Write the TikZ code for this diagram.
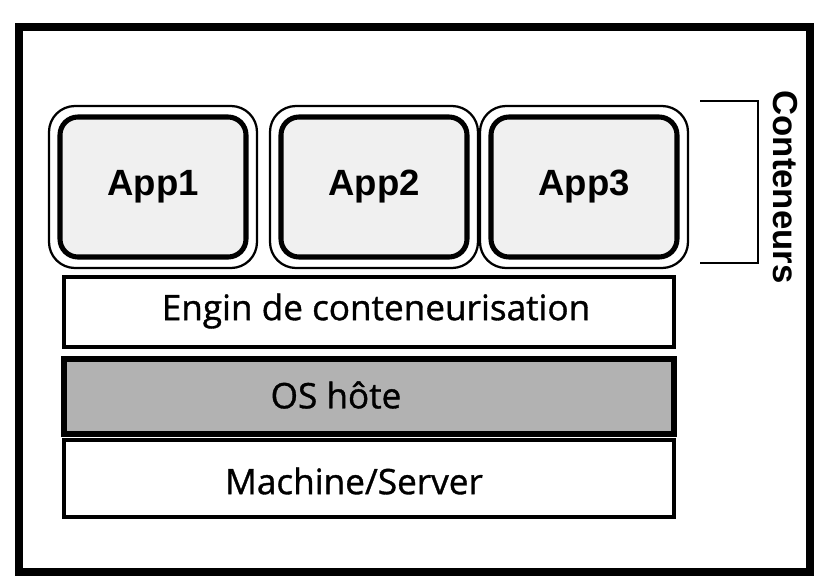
\documentclass[tikz,border=0pt]{standalone}
\usepackage{fontspec}
\setmainfont{Open Sans}
\newfontfamily\appfont{Liberation Sans}
\newfontfamily\layerfont[FakeBold=1]{Open Sans}
\usetikzlibrary{positioning}

\begin{document}
\begin{tikzpicture}[x=0.25mm, y=-0.25mm,
    appbox/.style={rectangle, draw, rounded corners=6.5mm, line width=1.6pt, minimum width=52mm, minimum height=40.5mm},
    appcore/.style={rectangle, draw, rounded corners=4.5mm, line width=3.6pt, fill=black!6, minimum width=46.5mm, minimum height=35mm, font=\appfont\bfseries\fontsize{26}{30}\selectfont},
    layer/.style={rectangle, draw, line width=2.6pt, minimum width=152.5mm, minimum height=17.5mm},
    layertext/.style={font=\layerfont\fontsize{25}{30}\selectfont}]

    \useasboundingbox (0,0) rectangle (816,586);
    \draw[line width=5.5pt] (19,27) rectangle (810,572);

    % containers
    \node[appbox] (app1) at (153,187) {};
    \node[appcore] (app1core) at (app1.center) {App1};
    \node[appbox] (app2) at (374,187) {};
    \node[appcore] (app2core) at (app2.center) {App2};
    \node[appbox] (app3) at (584,187) {};
    \node[appcore] (app3core) at (app3.center) {App3};

    % stack
    \node[layer, fill=white] (engin) at (369,312) {};
    \node[layer, fill=black!30, line width=4.4pt, minimum height=18.75mm] (os) at (369,396.5) {};
    \node[layer, fill=white, minimum height=19.25mm] (machine) at (369,478.5) {};
    \node[layertext] (engintxt) at (376,311) {Engin de conteneurisation};
    \node[layertext] (ostxt) at (336,395) {OS hôte};
    \node[layertext] (machinetxt) at (354,481) {Machine/Server};

    % bracket
    \coordinate (brtop) at (700,101);
    \coordinate (brbot) at (700,263);
    \draw[line width=1.2pt] (brtop) -- ++(58,0) |- (brbot);
    \node[rotate=-90, font=\appfont\bfseries\fontsize{24.7}{30}\selectfont] (cont) at (785,187) {Conteneurs};
\end{tikzpicture}
\end{document}
